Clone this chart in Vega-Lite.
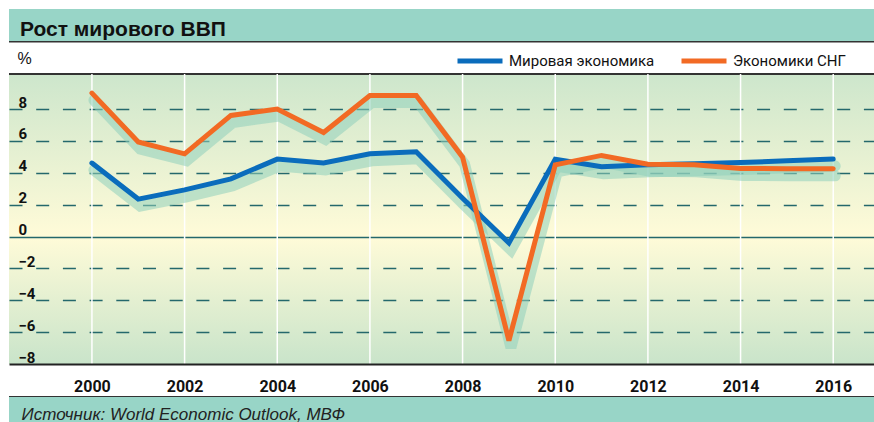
{
  "$schema": "https://vega.github.io/schema/vega-lite/v6.json",
  "width": 865,
  "height": 290,
  "autosize": {"type": "none"},
  "padding": {"left": 9, "top": 74, "right": 0, "bottom": 58},
  "background": "white",
  "view": {
    "stroke": null,
    "fill": {"gradient": "linear", "x1": 0, "y1": 0, "x2": 0, "y2": 1,
      "stops": [
        {"offset": 0, "color": "#cde6cc"},
        {"offset": 0.56, "color": "#fffbd8"},
        {"offset": 1, "color": "#c9e4ca"}
      ]}
  },
  "title": {
    "text": "Рост мирового ВВП",
    "anchor": "start",
    "frame": "group",
    "font": "Liberation Sans, Arial, sans-serif",
    "fontSize": 21,
    "fontWeight": "bold",
    "color": "#111",
    "dx": 11,
    "dy": 31,
    "offset": 0
  },
  "datasets": {
    "gdp": [
      {"year": 2000, "series": "Мировая экономика", "value": 4.61},
      {"year": 2001, "series": "Мировая экономика", "value": 2.35},
      {"year": 2002, "series": "Мировая экономика", "value": 2.93},
      {"year": 2003, "series": "Мировая экономика", "value": 3.62},
      {"year": 2004, "series": "Мировая экономика", "value": 4.86},
      {"year": 2005, "series": "Мировая экономика", "value": 4.61},
      {"year": 2006, "series": "Мировая экономика", "value": 5.19},
      {"year": 2007, "series": "Мировая экономика", "value": 5.32},
      {"year": 2008, "series": "Мировая экономика", "value": 2.4},
      {"year": 2009, "series": "Мировая экономика", "value": -0.4},
      {"year": 2010, "series": "Мировая экономика", "value": 4.85},
      {"year": 2011, "series": "Мировая экономика", "value": 4.38},
      {"year": 2012, "series": "Мировая экономика", "value": 4.5},
      {"year": 2013, "series": "Мировая экономика", "value": 4.57},
      {"year": 2014, "series": "Мировая экономика", "value": 4.65},
      {"year": 2015, "series": "Мировая экономика", "value": 4.75},
      {"year": 2016, "series": "Мировая экономика", "value": 4.86},
      {"year": 2000, "series": "Экономики СНГ", "value": 9.0},
      {"year": 2001, "series": "Экономики СНГ", "value": 5.93},
      {"year": 2002, "series": "Экономики СНГ", "value": 5.19},
      {"year": 2003, "series": "Экономики СНГ", "value": 7.6},
      {"year": 2004, "series": "Экономики СНГ", "value": 8.0},
      {"year": 2005, "series": "Экономики СНГ", "value": 6.53},
      {"year": 2006, "series": "Экономики СНГ", "value": 8.85},
      {"year": 2007, "series": "Экономики СНГ", "value": 8.85},
      {"year": 2008, "series": "Экономики СНГ", "value": 4.98},
      {"year": 2009, "series": "Экономики СНГ", "value": -6.53},
      {"year": 2010, "series": "Экономики СНГ", "value": 4.5},
      {"year": 2011, "series": "Экономики СНГ", "value": 5.09},
      {"year": 2012, "series": "Экономики СНГ", "value": 4.54},
      {"year": 2013, "series": "Экономики СНГ", "value": 4.5},
      {"year": 2014, "series": "Экономики СНГ", "value": 4.27},
      {"year": 2015, "series": "Экономики СНГ", "value": 4.26},
      {"year": 2016, "series": "Экономики СНГ", "value": 4.25}
    ]
  },
  "layer": [
    {
      "data": {"values": [{}]},
      "mark": {"type": "rect", "color": "#98d5c7"},
      "encoding": {
        "y": {"datum": 14.28, "type": "quantitative", "scale": {"domain": [-8, 10.2], "nice": false, "zero": false}},
        "y2": {"datum": 12.21}
      }
    },
    {
      "data": {"values": [{}]},
      "mark": {"type": "rect", "color": "#98d5c7"},
      "encoding": {
        "y": {"datum": -10.07, "type": "quantitative", "scale": {"domain": [-8, 10.2], "nice": false, "zero": false}},
        "y2": {"datum": -11.7}
      }
    },
    {
      "data": {"values": [{}]},
      "mark": {"type": "rule", "color": "#333", "strokeWidth": 1.5},
      "encoding": {
        "y": {"datum": 12.23, "type": "quantitative", "scale": {"domain": [-8, 10.2], "nice": false, "zero": false}}
      }
    },
    {
      "data": {"values": [{}]},
      "mark": {"type": "rule", "color": "#333", "strokeWidth": 2},
      "encoding": {
        "y": {"datum": 10.2, "type": "quantitative", "scale": {"domain": [-8, 10.2], "nice": false, "zero": false}}
      }
    },
    {
      "data": {"values": [{}]},
      "mark": {"type": "rule", "color": "#333", "strokeWidth": 1.2},
      "encoding": {
        "y": {"datum": -10.04, "type": "quantitative", "scale": {"domain": [-8, 10.2], "nice": false, "zero": false}}
      }
    },
    {
      "data": {"name": "gdp"},
      "transform": [{"filter": "datum.year % 2 === 0 && datum.series === 'Мировая экономика'"}],
      "mark": {"type": "rule", "color": "#ffffff", "strokeWidth": 1.5},
      "encoding": {
        "x": {"field": "year", "type": "quantitative", "scale": {"domain": [1998.21, 2016.88], "nice": false, "zero": false}}
      }
    },
    {
      "data": {"name": "gdp"},
      "mark": {"type": "line", "strokeWidth": 11, "color": "#8fd0bb", "opacity": 0.55, "xOffset": 2, "yOffset": 7, "strokeCap": "round", "strokeJoin": "miter"},
      "encoding": {
        "x": {"field": "year", "type": "quantitative", "scale": {"domain": [1998.21, 2016.88], "nice": false, "zero": false}},
        "y": {"field": "value", "type": "quantitative", "scale": {"domain": [-8, 10.2], "nice": false, "zero": false}},
        "detail": {"field": "series"}
      }
    },
    {
      "data": {"name": "gdp"},
      "mark": {"type": "line", "strokeWidth": 5, "strokeCap": "round", "strokeJoin": "miter"},
      "encoding": {
        "x": {
          "field": "year", "type": "quantitative",
          "scale": {"domain": [1998.21, 2016.88], "nice": false, "zero": false},
          "axis": {
            "values": [2000, 2002, 2004, 2006, 2008, 2010, 2012, 2014, 2016],
            "tickCount": 30,
            "format": "d",
            "zindex": 1,
            "title": "Источник: World Economic Outlook, МВФ",
            "titleX": 12, "titleY": 55, "titleAlign": "left", "titleAnchor": "start", "titleBaseline": "alphabetic",
            "titleFont": "Liberation Sans, Arial, sans-serif", "titleFontStyle": "italic", "titleFontWeight": "normal",
            "titleFontSize": 17, "titleColor": "#222",
            "labelFont": "Roboto, Liberation Sans, sans-serif",
            "labelFontWeight": "bold", "labelFontSize": 16, "labelColor": "#111", "labelPadding": 14,
            "labelFlush": false, "labelOverlap": false,
            "ticks": false, "domainColor": "#222", "domainWidth": 2,
            "grid": false
          }
        },
        "y": {
          "field": "value", "type": "quantitative",
          "scale": {"domain": [-8, 10.2], "nice": false, "zero": false},
          "axis": {
            "values": [-8, -6, -4, -2, 0, 2, 4, 6, 8],
            "tickCount": 30,
            "format": "d",
            "title": "%", "titleAngle": 0, "titleX": 8, "titleY": -11, "titleAlign": "left", "titleBaseline": "alphabetic",
            "titleFont": "Liberation Sans, Arial, sans-serif", "titleFontWeight": "normal", "titleFontSize": 16, "titleColor": "#111",
            "labelAlign": "left", "labelBaseline": "alphabetic", "labelPadding": -9, "labelOffset": -2, "labelFlush": false,
            "labelOverlap": false,
            "ticks": false, "tickSize": 0, "domain": false,
            "labelFont": "Roboto, Liberation Sans, sans-serif",
            "labelFontWeight": "bold", "labelFontSize": 15, "labelColor": "#111",
            "grid": true,
            "gridColor": {"condition": {"test": "datum.value === -8", "value": "transparent"}, "value": "#24686c"},
            "gridDash": {"condition": {"test": "datum.value === 0", "value": []}, "value": [13, 13.7]},
            "gridWidth": 1.5
          }
        },
        "color": {
          "field": "series", "type": "nominal",
          "scale": {"domain": ["Мировая экономика", "Экономики СНГ"], "range": ["#0a6cbc", "#f26a24"]},
          "legend": {
            "title": null, "orient": "none", "legendX": 446, "legendY": -38, "direction": "horizontal",
            "symbolType": "stroke", "symbolSize": 2025, "symbolStrokeWidth": 5,
            "labelFont": "Roboto, Liberation Sans, sans-serif",
            "labelFontSize": 15, "labelColor": "#111", "labelOffset": 4, "columnPadding": 16, "padding": 0
          }
        }
      }
    }
  ]
}
